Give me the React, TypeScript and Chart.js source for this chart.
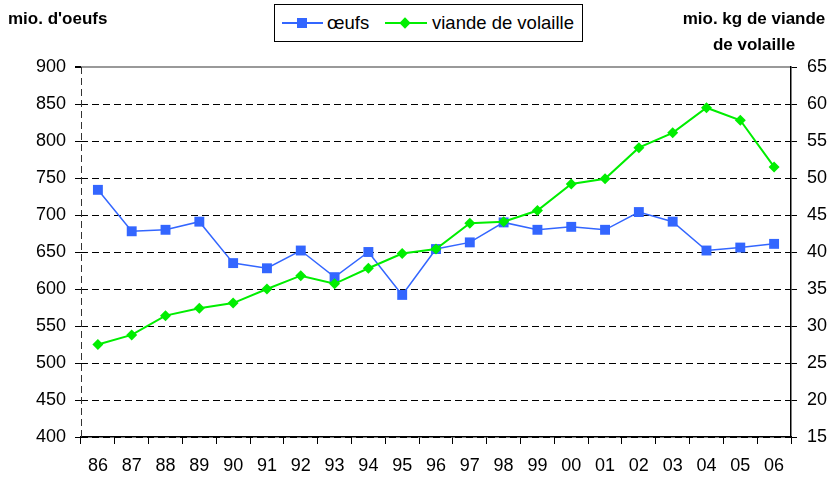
import React, { useEffect, useRef } from "react";
import { Chart, registerables } from "chart.js";

Chart.register(...registerables);

const years = ["86", "87", "88", "89", "90", "91", "92", "93", "94", "95", "96", "97", "98", "99", "00", "01", "02", "03", "04", "05", "06"];
const oeufs = [734, 678, 680, 691, 635, 628, 652, 616, 650, 592, 654, 663, 690, 680, 684, 680, 704, 691, 652, 656, 661];
const volaille = [27.5, 28.8, 31.4, 32.4, 33.1, 35.0, 36.8, 35.7, 37.8, 39.8, 40.4, 43.9, 44.1, 45.6, 49.2, 49.9, 54.1, 56.1, 59.5, 57.8, 51.5];
const leftRange = [400, 900, 50];
const rightRange = [15, 65, 5];

const FONT = "'Liberation Sans', Arial, sans-serif";
const BLUE = "#3366FF";
const GREEN = "#00EE00";

const frame = {
  id: "frame",
  beforeDatasetsDraw(chart: any) {
    const { ctx, chartArea } = chart;
    ctx.save();
    ctx.strokeStyle = "#333";
    ctx.lineWidth = 1;
    ctx.setLineDash([7, 4]);
    ctx.beginPath();
    ctx.moveTo(chartArea.left + 0.5, chartArea.top);
    ctx.lineTo(chartArea.left + 0.5, chartArea.bottom);
    ctx.stroke();
    ctx.restore();
  },
};

export default function App() {
  const ref = useRef<HTMLCanvasElement | null>(null);
  useEffect(() => {
    if (!ref.current) return;
    const chart = new Chart(ref.current, {
      type: "line",
      data: {
        labels: years,
        datasets: [
          {
            label: "œufs",
            data: oeufs,
            yAxisID: "y",
            borderColor: BLUE,
            backgroundColor: BLUE,
            borderWidth: 1.5,
            pointStyle: "rect",
            pointRadius: 7,
            pointBorderWidth: 0,
            pointBackgroundColor: BLUE,
            order: 1,
          },
          {
            label: "viande de volaille",
            data: volaille,
            yAxisID: "y1",
            borderColor: GREEN,
            backgroundColor: GREEN,
            borderWidth: 2,
            pointStyle: "rectRot",
            pointRadius: 5.5,
            pointBorderWidth: 0,
            pointBackgroundColor: GREEN,
            order: 0,
          },
        ],
      },
      options: {
        animation: false,
        responsive: false,
        layout: { padding: { top: 67, left: 0, right: 0, bottom: 0 } },
        plugins: { legend: { display: false }, tooltip: { enabled: false } },
        scales: {
          x: {
            type: "category",
            offset: true,
            grid: {
              offset: true,
              drawOnChartArea: false,
              drawTicks: true,
              tickLength: 7,
              color: "#000",
            },
            border: { display: true, color: "#000", width: 1.5 },
            ticks: {
              font: { family: FONT, size: 18 },
              color: "#000",
              padding: 11,
              maxRotation: 0,
              autoSkip: false,
            },
            afterFit: (s: any) => {
              s.height = 41;
            },
          },
          y: {
            position: "left",
            min: leftRange[0],
            max: leftRange[1],
            ticks: {
              stepSize: leftRange[2],
              font: { family: FONT, size: 18 },
              color: "#000",
              padding: 9,
            },
            grid: {
              color: (c: any) => (c.tick && c.tick.value === leftRange[1] ? "#999" : "#000"),
              lineWidth: (c: any) => (c.tick && c.tick.value === leftRange[1] ? 2 : 1),
              tickColor: "#000",
              tickLength: 6,
              drawTicks: true,
            },
            border: {
              display: false,
              dash: (c: any) => (c.tick && c.tick.value === leftRange[1] ? [] : [7, 4]),
            },
            afterFit: (s: any) => {
              s.width = 81;
            },
          },
          y1: {
            position: "right",
            min: rightRange[0],
            max: rightRange[1],
            ticks: {
              stepSize: rightRange[2],
              font: { family: FONT, size: 18 },
              color: "#000",
              padding: 10,
            },
            grid: {
              drawOnChartArea: false,
              color: "#000",
              tickLength: 6,
            },
            border: { display: true, color: "#000", width: 1.5 },
            afterFit: (s: any) => {
              s.width = 43;
            },
          },
        },
      } as any,
      plugins: [frame],
    });
    return () => chart.destroy();
  }, []);

  const textBase: React.CSSProperties = {
    position: "absolute",
    fontFamily: FONT,
    color: "#000",
    whiteSpace: "nowrap",
  };

  return (
    <div style={{ position: "absolute", left: 0, top: 0, width: 834, height: 478, background: "#fff" }}>
      <canvas ref={ref} width={834} height={478} style={{ display: "block", position: "absolute", left: 0, top: 0 }} />
      <div style={{ ...textBase, left: 8, top: 9, fontSize: 17, fontWeight: "bold", lineHeight: "20px" }}>
        mio. d'oeufs
      </div>
      <div
        style={{
          ...textBase,
          left: 664,
          top: 6,
          width: 180,
          textAlign: "center",
          fontSize: 17,
          fontWeight: "bold",
          lineHeight: "26px",
        }}
      >
        mio. kg de viande
        <br />
        de volaille
      </div>
      <div
        style={{
          position: "absolute",
          left: 274,
          top: 4,
          width: 307,
          height: 36,
          border: "1px solid #000",
          background: "#fff",
        }}
      />
      <div style={{ position: "absolute", left: 282, top: 22, width: 41, height: 2, background: BLUE }} />
      <div style={{ position: "absolute", left: 297, top: 18, width: 10, height: 10, background: BLUE }} />
      <div style={{ ...textBase, left: 327, top: 12, fontSize: 18.5, lineHeight: "22px" }}>œufs</div>
      <div style={{ position: "absolute", left: 385, top: 22, width: 42, height: 2, background: GREEN }} />
      <div
        style={{
          position: "absolute",
          left: 401,
          top: 19,
          width: 8,
          height: 8,
          background: GREEN,
          transform: "rotate(45deg)",
        }}
      />
      <div style={{ ...textBase, left: 432, top: 12, fontSize: 18.5, lineHeight: "22px" }}>viande de volaille</div>
    </div>
  );
}
